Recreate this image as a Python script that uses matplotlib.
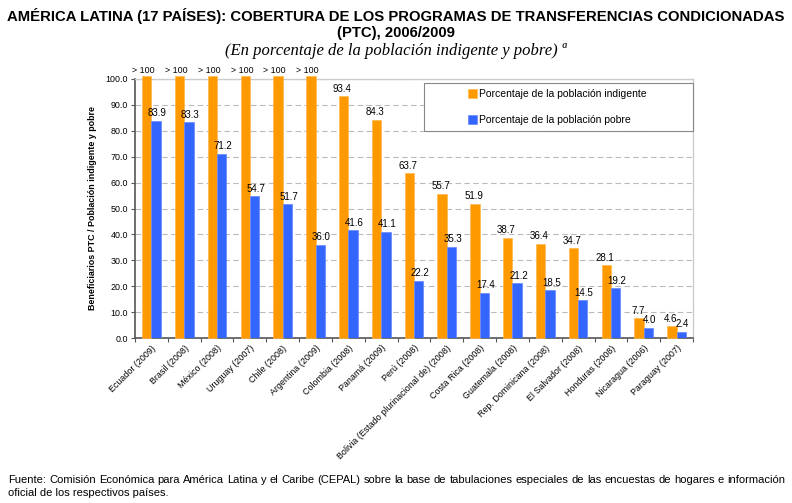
import numpy as np
import matplotlib.pyplot as plt
from matplotlib.patches import Rectangle

# Data (None = more than 100)
countries = ['Ecuador (2009)', 'Brasil (2008)', 'México (2008)', 'Uruguay (2007)',
             'Chile (2008)', 'Argentina (2009)', 'Colombia (2008)', 'Panamá (2009)',
             'Perú (2008)', 'Bolivia (Estado plurinacional de) (2008)', 'Costa Rica (2008)',
             'Guatemala (2008)', 'Rep. Dominicana (2008)', 'El Salvador (2008)',
             'Honduras (2008)', 'Nicaragua (2006)', 'Paraguay (2007)']
indigente = [None, None, None, None, None, None, 93.4, 84.3, 63.7, 55.7, 51.9,
             38.7, 36.4, 34.7, 28.1, 7.7, 4.6]
pobre = [83.9, 83.3, 71.2, 54.7, 51.7, 36.0, 41.6, 41.1, 22.2, 35.3, 17.4,
         21.2, 18.5, 14.5, 19.2, 4.0, 2.4]

OVER = 101.2  # height drawn for values above 100
orange = '#FF9900'
blue = '#3366FF'

plt.rcParams['font.family'] = ['Liberation Sans', 'DejaVu Sans']

fig = plt.figure(figsize=(7.92, 5.03), dpi=100)
ax = fig.add_axes([135 / 792, 1 - 338 / 503, (693 - 135) / 792, (338 - 79) / 503])

x = np.arange(len(countries))
w = 0.285
ind_h = [OVER if v is None else v for v in indigente]
ax.bar(x - w / 2, ind_h, w, color=orange, edgecolor='#FFB84D', linewidth=0.5,
       label='Porcentaje de la población indigente', clip_on=False, zorder=3)
ax.bar(x + w / 2, pobre, w, color=blue, edgecolor='#6688FF', linewidth=0.5,
       label='Porcentaje de la población pobre', zorder=3)

for xi, v in zip(x, indigente):
    if v is None:
        ax.text(xi - w / 2 - 0.1, 103.3, '> 100', ha='center', va='center', fontsize=6.4)
    else:
        ax.text(xi - w / 2 - 0.04, v + 2.9, f'{v:.1f}', ha='center', va='center', fontsize=7)
for xi, v in zip(x, pobre):
    ax.text(xi + w / 2 + 0.04, v + 2.9, f'{v:.1f}', ha='center', va='center', fontsize=7)

ax.set_xlim(-0.5, len(countries) - 0.5)
ax.set_ylim(0, 100)
ax.set_yticks(np.arange(0, 101, 10))
ax.set_yticklabels([f'{t:.1f}' for t in np.arange(0, 101, 10)], fontsize=6.4)
ax.yaxis.grid(True, linestyle=(0, (5, 3)), color='#BBBBBB', linewidth=0.8, zorder=0)
ax.set_axisbelow(True)

# ticks between categories, labels at category centres
ax.set_xticks(np.arange(len(countries) + 1) - 0.5)
ax.set_xticklabels([])
ax.set_xticks(x, minor=True)
ax.set_xticklabels(countries, minor=True, rotation=45, ha='right', rotation_mode='anchor',
                   fontsize=6.4)
ax.tick_params(axis='x', which='minor', length=0, pad=4)
ax.tick_params(axis='x', which='major', length=3, color='#555555', direction='out')
ax.tick_params(axis='y', length=3, color='#555555', pad=2)

for s in ['left', 'bottom']:
    ax.spines[s].set_color('#555555')
    ax.spines[s].set_linewidth(1.2)
for s in ['top', 'right']:
    ax.spines[s].set_color('#CCCCCC')
    ax.spines[s].set_linewidth(1.0)

ax.set_ylabel('Beneficiarios PTC / Población indigente y pobre', fontsize=6.4,
              fontweight='bold', labelpad=6)

# legend: frame drawn separately, entries centred inside it
ax.add_patch(Rectangle((0.518, 0.799), 0.482, 0.186, transform=ax.transAxes,
                       facecolor='white', edgecolor='#888888', linewidth=0.8,
                       zorder=4, clip_on=False))
leg = ax.legend(loc='center', bbox_to_anchor=(0.757, 0.892), fontsize=7.5,
                frameon=False, handlelength=0.9, handleheight=0.9,
                labelspacing=1.55, handletextpad=0.2, borderpad=0)
leg.set_zorder(5)

fig.text(0.5, 1 - 16 / 503,
         'AMÉRICA LATINA (17 PAÍSES): COBERTURA DE LOS PROGRAMAS DE TRANSFERENCIAS CONDICIONADAS',
         ha='center', va='center', fontsize=10.7, fontweight='bold')
fig.text(0.5, 1 - 33 / 503, '(PTC), 2006/2009', ha='center', va='center',
         fontsize=10.7, fontweight='bold')
fig.text(0.5, 1 - 51 / 503, '(En porcentaje de la población indigente y pobre) ª',
         ha='center', va='center', fontsize=12, style='italic',
         family=['Liberation Serif', 'DejaVu Serif'])

# source note, first line justified between 8 and 785 px
line1 = ('Fuente: Comisión Económica para América Latina y el Caribe (CEPAL) sobre la base '
         'de tabulaciones especiales de las encuestas de hogares e información')
line2 = 'oficial de los respectivos países.'
words = line1.split()
renderer = fig.canvas.get_renderer()
items = [fig.text(0, 0, wd, fontsize=8, va='center') for wd in words]
widths = [t.get_window_extent(renderer).width for t in items]
gap = (785 - 8 - sum(widths)) / (len(words) - 1)
xpos = 8
for t, wdt in zip(items, widths):
    t.set_position((xpos / 792, 1 - 480 / 503))
    xpos += wdt + gap
fig.text(8 / 792, 1 - 493 / 503, line2, ha='left', va='center', fontsize=8)

fig.savefig('out.png', dpi=100)
